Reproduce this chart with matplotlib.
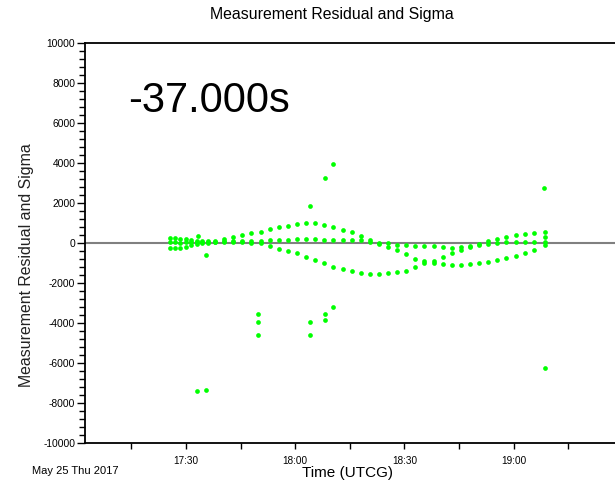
import pandas as pd
import matplotlib
matplotlib.use('Agg')
import matplotlib.pyplot as plt
import matplotlib.dates as mdates
from matplotlib.ticker import MultipleLocator

plt.rcParams['font.family'] = ['Liberation Sans', 'DejaVu Sans']
plt.rcParams['axes.unicode_minus'] = False

# minutes after 17:00 UTCG, May 25 2017
times = [25.5, 27, 28.5, 30, 31.5, 33, 34.5, 36, 38, 40.5, 43, 45.5, 48, 50.5,
         53, 55.5, 58, 60.5, 63, 65.5, 68, 70.5, 73, 75.5, 78, 80.5, 83, 85.5,
         88, 90.5, 93, 95.5, 98, 100.5, 103, 105.5, 108, 110.5, 113, 115.5,
         118, 120.5, 123, 125.5, 128.5]

# residual series (upper hump, middle, lower hump)
resid_upper = [230, 230, 220, 200, 150, 120, 100, 90, 120, 180, 280, 400, 480, 560,
               690, 800, 870, 940, 990, 980, 900, 800, 660, 550, 370, 140, -30, -200,
               -350, -560, -790, -880, -980, -1060, -1100, -1100, -1070, -1020, -950, -870,
               -770, -650, -520, -370, -100]
resid_middle = [30, 40, 20, 30, 40, 50, 60, 60, 70, 80, 90, 100, 110, 120,
                140, 160, 170, 180, 180, 180, 170, 170, 160, 150, 130, 70, 20, -20,
                -80, -100, -130, -150, -170, -220, -230, -220, -170, -100, -40, 0,
                30, 50, 60, 70, 70]
resid_lower = [-270, -250, -230, -180, -120, -60, -20, 20, 50, 60, 60, 50, 20, -20,
               -150, -300, -400, -520, -680, -860, -990, -1180, -1320, -1420, -1510, -1550, -1550, -1510,
               -1450, -1380, -1200, -1020, -880, -720, -520, -330, -180, -60, 90, 200,
               320, 410, 470, 520, 570]

# isolated points
out_times = [33.1, 33.3, 35.6, 35.6, 49.8, 49.8, 49.8, 64.1, 64.1, 64.1, 68.2, 68.2, 68.2,
             70.4, 70.4, 128.4, 128.5, 128.5]
out_values = [-7400, 330, -7350, -600, -3550, -3950, -4600, 1870, -3950, -4600, 3270, -3550, -3850,
              3950, -3180, 2770, -6250, 320]

base = pd.Timestamp('2017-05-25 17:00')
def to_dt(mins):
    return base + pd.to_timedelta(mins, unit='m')

fig = plt.figure(figsize=(6.15, 4.83), dpi=100)
ax = fig.add_axes([85 / 615, 40 / 483, 530 / 615, 400 / 483])

ax.axhline(0, color='#808080', lw=1.5, zorder=1)
green = '#00ff00'
for vals in [resid_upper, resid_middle, resid_lower]:
    ax.plot(to_dt(times), vals, 'o', color=green, ms=3.4, mew=0, zorder=3)
ax.plot(to_dt(out_times), out_values, 'o', color=green, ms=3.4, mew=0, zorder=3)

ax.set_xlim(to_dt(2.3), to_dt(147.8))
ax.set_ylim(-10000, 10000)
ax.yaxis.set_major_locator(MultipleLocator(2000))
ax.yaxis.set_minor_locator(MultipleLocator(400))
ax.xaxis.set_major_locator(mdates.MinuteLocator(byminute=[0, 30]))
ax.xaxis.set_minor_locator(mdates.MinuteLocator(byminute=[15, 45]))
ax.xaxis.set_major_formatter(mdates.DateFormatter('%H:%M'))

ax.tick_params(axis='y', which='major', length=6, width=1, labelsize=7.4, pad=1)
ax.tick_params(axis='y', which='minor', length=4, width=1)
ax.tick_params(axis='x', which='both', length=4, width=1, labelsize=7.2, pad=5)
ax.spines['right'].set_visible(False)
for s in ['left', 'top', 'bottom']:
    ax.spines[s].set_linewidth(1.3)

fig.text(128 / 615, 1 - 101 / 483, '-37.000s', ha='left', va='center', fontsize=30)
fig.text(331.7 / 615, 1 - 15 / 483, 'Measurement Residual and Sigma', ha='center', va='center', fontsize=11.4)
fig.text(27 / 615, 1 - 265 / 483, 'Measurement Residual and Sigma', ha='center', va='center',
         rotation=90, fontsize=11.4, color='#222222')
fig.text(347.5 / 615, 1 - 473 / 483, 'Time (UTCG)', ha='center', va='center', fontsize=11)
fig.text(32 / 615, 1 - 471 / 483, 'May 25 Thu 2017', ha='left', va='center', fontsize=8)

fig.savefig('out.png', dpi=100)
